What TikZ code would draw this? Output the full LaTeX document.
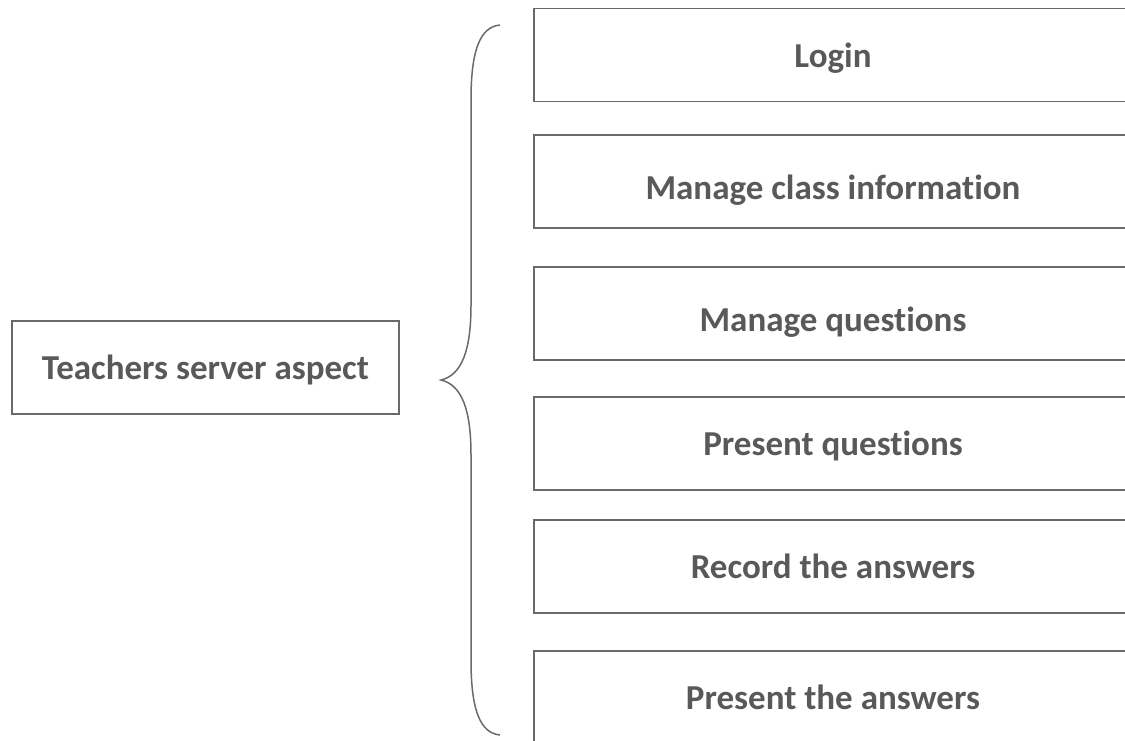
\documentclass[tikz,border=0pt]{standalone}
\usepackage{fontspec}
\setmainfont{Carlito}[Ligatures=NoCommon]
\usepackage{tikz}
\usetikzlibrary{positioning}
\definecolor{boxline}{HTML}{6A6A6A}
\definecolor{boxtext}{HTML}{595959}

\begin{document}
\begin{tikzpicture}[x=1pt,y=-1pt]%
        \useasboundingbox (0,0) rectangle (1125,740); %%
        \clip (0,0) rectangle (1125,740); %%
        \begin{scope}
            \tikzstyle{every node}=[draw=boxline,line width=1.5pt,text=boxtext,font=\fontsize{35}{40}\selectfont\bfseries,inner sep=0pt,text height=24pt,text depth=0pt];%%
            \tikzstyle{lower}=[text height=35pt];%%
            \node[minimum width=387pt,minimum height=93pt] (tsa) at (205.5,367.5) {Teachers server aspect}; %%
            \node[minimum width=598pt,minimum height=93pt] (login) at (833,55) {Login}; %%
            \node[minimum width=598pt,minimum height=93pt,lower] (mci) at (833,181.5) {Manage class information}; %%
            \node[minimum width=598pt,minimum height=93pt,lower] (mq) at (833,313.5) {Manage questions}; %%
            \node[minimum width=598pt,minimum height=93pt] (pq) at (833,443.5) {Present questions}; %%
            \node[minimum width=598pt,minimum height=93pt] (ra) at (833,566.5) {Record the answers}; %%
            \node[minimum width=598pt,minimum height=93pt] (pa) at (833,697.5) {Present the answers}; %%
        \end{scope}
        %% brace
        \draw[boxline,line width=1.5pt] (500,25) .. controls (480,27) and (471,50) .. (471,100) -- (471,305)
            .. controls (471,350) and (462,375) .. (441,380) .. controls (462,385) and (471,410) .. (471,455)
            -- (471,660) .. controls (471,710) and (480,733) .. (500,735); %%
\end{tikzpicture}
\end{document}
